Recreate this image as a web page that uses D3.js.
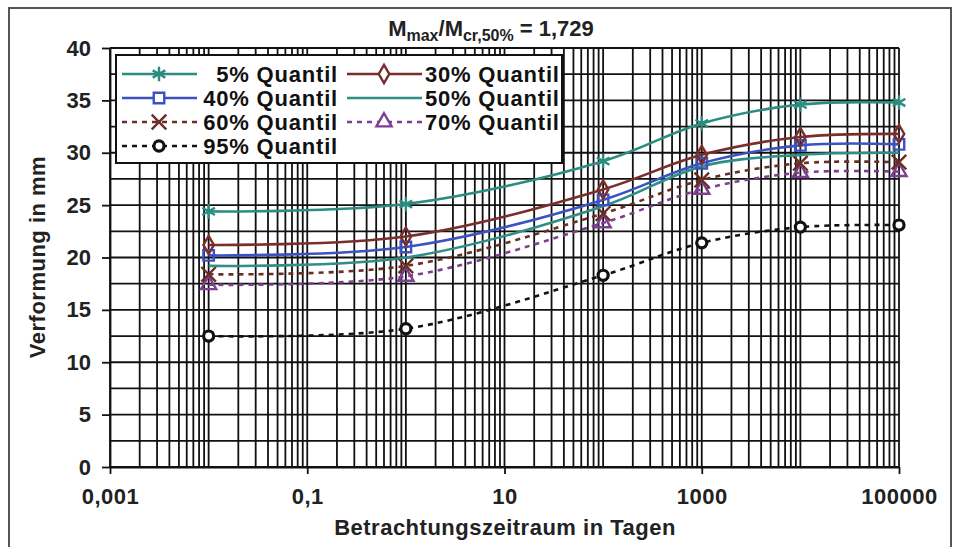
<!DOCTYPE html>
<html>
<head>
<meta charset="utf-8">
<script src="https://cdn.jsdelivr.net/npm/d3@7"></script>
<style>
  body { margin: 0; background: #fff; }
  svg { display: block; font-family: "Liberation Sans", Arial, sans-serif; }
</style>
</head>
<body>
<div id="chart"></div>
<script>
// --------------------------------------
// Data
// --------------------------------------

const days = [0.01, 1, 100, 1000, 10000, 100000];

const q05 = [24.4, 25.1, 29.2, 32.8, 34.6, 34.8];
const q30 = [21.2, 22.0, 26.5, 29.8, 31.5, 31.8];
const q40 = [20.2, 21.0, 25.5, 29.0, 30.7, 30.8];
const q50 = [19.2, 20.0, 24.9, 28.7, 29.8, 30.0];
const q60 = [18.4, 19.2, 24.2, 27.4, 29.0, 29.1];
const q70 = [17.4, 18.2, 23.3, 26.5, 28.1, 28.2];
const q95 = [12.5, 13.2, 18.3, 21.4, 22.9, 23.1];

const seriesNames = ["5% Quantil", "30% Quantil", "40% Quantil", "50% Quantil",
                     "60% Quantil", "70% Quantil", "95% Quantil"];

const xTickValues = [0.001, 0.1, 10, 1000, 100000];
const xTickLabels = ["0,001", "0,1", "10", "1000", "100000"];
const yTickValues = [0, 5, 10, 15, 20, 25, 30, 35, 40];

// --------------------------------------
// Canvas
// --------------------------------------

const width = 953, height = 547;
const margin = {top: 48, right: 54, bottom: 80, left: 110};

const svg = d3.select("#chart")
  .append("svg")
    .attr("width", width)
    .attr("height", height);

// outer frame
svg.append("rect")
  .attr("x", 9).attr("y", 8)
  .attr("width", 942).attr("height", 560)
  .attr("fill", "none")
  .attr("stroke", "#555")
  .attr("stroke-width", 2);

// --------------------------------------
// Scales
// --------------------------------------

const x = d3.scaleLog([0.001, 100000], [margin.left, width - margin.right]);
const y = d3.scaleLinear([0, 40], [height - margin.bottom, margin.top]);

// --------------------------------------
// Grid
// --------------------------------------

const grid = svg.append("g")
  .attr("stroke", "#111")
  .attr("stroke-width", 1.8);

grid.selectAll(".hgrid")
  .data(d3.range(0, 40.01, 2.5))
  .join("line")
    .attr("x1", x.range()[0]).attr("x2", x.range()[1])
    .attr("y1", d => y(d)).attr("y2", d => y(d));

grid.selectAll(".vgrid")
  .data(x.ticks())
  .join("line")
    .attr("x1", d => x(d)).attr("x2", d => x(d))
    .attr("y1", y.range()[0]).attr("y2", y.range()[1]);

// --------------------------------------
// Axes
// --------------------------------------

const yAxis = svg.append("g")
  .attr("transform", `translate(${margin.left},0)`)
  .call(d3.axisLeft(y).tickValues(yTickValues).tickSize(8).tickPadding(11).tickSizeOuter(0));

const xAxis = svg.append("g")
  .attr("transform", `translate(0,${height - margin.bottom})`)
  .call(d3.axisBottom(x).tickValues(xTickValues).tickSize(7).tickPadding(14).tickSizeOuter(0)
    .tickFormat((d, i) => xTickLabels[i]));

[xAxis, yAxis].forEach(a => {
  a.select(".domain").attr("stroke", "#111").attr("stroke-width", 1.8);
  a.selectAll(".tick line").attr("stroke", "#111").attr("stroke-width", 1.8);
  a.selectAll(".tick text")
    .attr("fill", "#222")
    .style("font-size", "22px")
    .style("font-weight", "bold");
});
xAxis.selectAll(".tick text").style("letter-spacing", "0.5px");

svg.append("text")
  .attr("x", 505).attr("y", 535)
  .attr("text-anchor", "middle")
  .attr("fill", "#222")
  .style("font-size", "22px")
  .style("font-weight", "bold")
  .style("letter-spacing", "0.5px")
  .text("Betrachtungszeitraum in Tagen");

svg.append("text")
  .attr("transform", "translate(45,257) rotate(-90)")
  .attr("text-anchor", "middle")
  .attr("fill", "#222")
  .style("font-size", "22px")
  .style("font-weight", "bold")
  .style("letter-spacing", "0.5px")
  .text("Verformung in mm");

// title
const title = svg.append("text")
  .attr("x", 491).attr("y", 36)
  .attr("text-anchor", "middle")
  .attr("fill", "#222")
  .style("font-size", "22px")
  .style("font-weight", "bold");
title.append("tspan").text("M");
title.append("tspan").attr("dy", 5).style("font-size", "16px").text("max");
title.append("tspan").attr("dy", -5).text("/M");
title.append("tspan").attr("dy", 5).style("font-size", "16px").text("cr,50%");
title.append("tspan").attr("dy", -5).text(" = 1,729");

// --------------------------------------
// Series
// --------------------------------------

const series = [
  {name: seriesNames[0], values: q05, color: "#2b8c7f", dash: null, symbol: d3.symbolAsterisk, size: 150, fill: "none"},
  {name: seriesNames[1], values: q30, color: "#7a2e2c", dash: null, symbol: d3.symbolDiamond, size: 95, fill: "none"},
  {name: seriesNames[2], values: q40, color: "#3a52c2", dash: null, symbol: d3.symbolSquare, size: 110, fill: "none"},
  {name: seriesNames[3], values: q50, color: "#2f8f86", dash: null, symbol: null},
  {name: seriesNames[4], values: q60, color: "#6a2e24", dash: "5,5", symbol: d3.symbolX, size: 140, fill: "none"},
  {name: seriesNames[5], values: q70, color: "#7e3f90", dash: "5,5", symbol: d3.symbolTriangle, size: 100, fill: "none"},
  {name: seriesNames[6], values: q95, color: "#111", dash: "5,5", symbol: d3.symbolCircle, size: 80, fill: "#fff"}
];

const line = d3.line()
  .x(d => x(d[0]))
  .y(d => y(d[1]))
  .curve(d3.curveCatmullRom.alpha(0.5));

const plot = svg.append("g");

plot.selectAll(".series")
  .data(series.slice().reverse())
  .join("g")
  .each(function(s) {
    const g = d3.select(this);
    g.append("path")
      .attr("d", line(days.map((d, i) => [d, s.values[i]])))
      .attr("fill", "none")
      .attr("stroke", s.color)
      .attr("stroke-width", 2.6)
      .attr("stroke-dasharray", s.dash);
    if (s.symbol) {
      g.selectAll("path.mark")
        .data(days.map((d, i) => [d, s.values[i]]))
        .join("path")
          .attr("class", "mark")
          .attr("transform", d => `translate(${x(d[0])},${y(d[1])})`)
          .attr("d", d3.symbol(s.symbol, s.size))
          .attr("fill", s.fill)
          .attr("stroke", s.color)
          .attr("stroke-width", s.symbol === d3.symbolCircle ? 3.2 : 2.4);
    }
  });

// --------------------------------------
// Legend
// --------------------------------------

const legend = svg.append("g");

legend.append("rect")
  .attr("x", 116).attr("y", 55)
  .attr("width", 446).attr("height", 108)
  .attr("fill", "#fff")
  .attr("stroke", "#111")
  .attr("stroke-width", 2);

const legendPos = [
  {col: 0, row: 0}, {col: 1, row: 0}, {col: 0, row: 1}, {col: 1, row: 1},
  {col: 0, row: 2}, {col: 1, row: 2}, {col: 0, row: 3}
];
const colX = [122, 347];
const rowY = [74, 98, 122, 146];

series.forEach((s, i) => {
  const p = legendPos[i];
  const lx = colX[p.col], ly = rowY[p.row];
  const item = legend.append("g").attr("transform", `translate(${lx},${ly})`);
  item.append("line")
    .attr("x1", 0).attr("x2", 75)
    .attr("stroke", s.color)
    .attr("stroke-width", 2.6)
    .attr("stroke-dasharray", s.dash);
  if (s.symbol) {
    item.append("path")
      .attr("transform", "translate(37,0)")
      .attr("d", d3.symbol(s.symbol, s.size))
      .attr("fill", "#fff")
      .attr("stroke", s.color)
      .attr("stroke-width", s.symbol === d3.symbolCircle ? 3.2 : 2.4);
  }
  const t = item.append("text")
    .attr("y", 8)
    .attr("fill", "#111")
    .style("font-size", "22px")
    .style("font-weight", "bold")
    .style("letter-spacing", "0.8px")
    .text(s.name);
  if (p.col === 0) {
    t.attr("x", 216).attr("text-anchor", "end");
  } else {
    t.attr("x", 78);
  }
});
</script>
</body>
</html>
